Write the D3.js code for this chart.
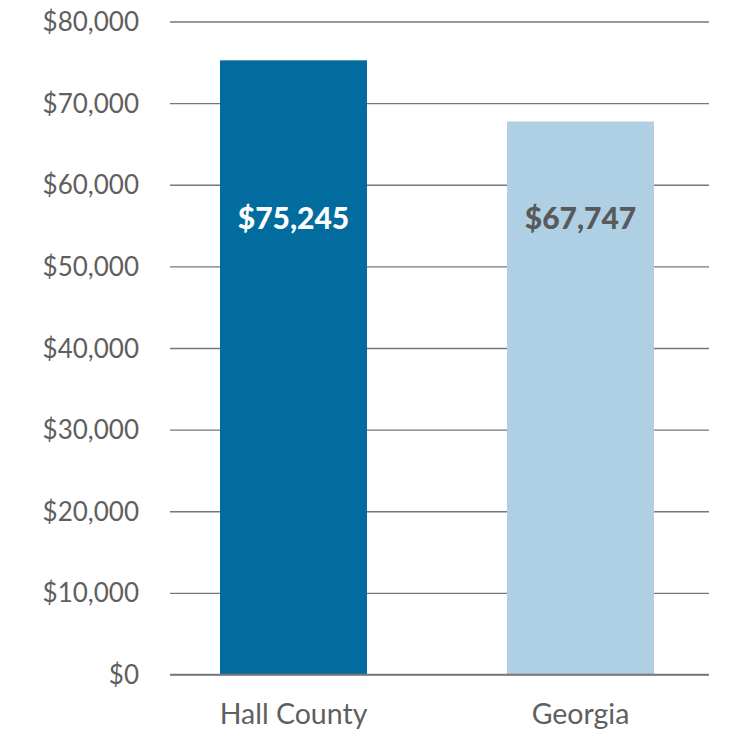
<!DOCTYPE html>
<html>
<head>
<meta charset="utf-8">
<script src="https://cdn.jsdelivr.net/npm/d3@7"></script>
<style>
  html, body { margin: 0; padding: 0; background: #ffffff; }
  svg { display: block; }
  text { font-family: Lato, "Open Sans", sans-serif; }
</style>
</head>
<body>
<script>
const categories = ["Hall County", "Georgia"];
const values = [75245, 67747];
const valueLabels = ["$75,245", "$67,747"];
const tickValues = [0, 10000, 20000, 30000, 40000, 50000, 60000, 70000, 80000];
const barColors = ["#026c9e", "#aecfe4"];
const labelColors = ["#ffffff", "#595959"];

const W = 729, H = 733;
const svg = d3.select("body").append("svg").attr("width", W).attr("height", H);

const y = d3.scaleLinear().domain([0, 80000]).range([674.5, 21.5]);
const x = d3.scaleBand().domain(categories).range([170, 704])
  .paddingInner(0.4878).paddingOuter(0.1742);

// gridlines
const yAxis = d3.axisLeft(y).tickValues(tickValues)
  .tickSize(-(709 - 170)).tickFormat(d => "$" + d3.format(",")(d));
const ga = svg.append("g").attr("transform", "translate(170,0)").call(yAxis);
ga.select(".domain").remove();
ga.selectAll(".tick line").attr("stroke", "#777777").attr("stroke-width", 1.3);
ga.selectAll(".tick text").attr("x", -31).attr("fill", "#5f5f5f")
  .attr("font-size", 26).attr("dy", "0.35em");

// bars
svg.selectAll("rect.bar").data(categories).join("rect")
  .attr("class", "bar")
  .attr("x", d => x(d))
  .attr("width", x.bandwidth())
  .attr("y", (d, i) => y(values[i]))
  .attr("height", (d, i) => y(0) - y(values[i]))
  .attr("fill", (d, i) => barColors[i]);

// baseline
svg.append("line").attr("x1", 170).attr("x2", 709)
  .attr("y1", y(0)).attr("y2", y(0))
  .attr("stroke", "#777777").attr("stroke-width", 1.3);

// value labels
svg.selectAll("text.val").data(categories).join("text")
  .attr("class", "val")
  .attr("x", d => x(d) + x.bandwidth() / 2)
  .attr("y", 229)
  .attr("text-anchor", "middle")
  .attr("font-size", 30)
  .attr("font-weight", 900)
  .attr("fill", (d, i) => labelColors[i])
  .text((d, i) => valueLabels[i]);

// category labels
const xAxis = d3.axisBottom(x).tickSize(0).tickPadding(0);
const gx = svg.append("g").call(xAxis);
gx.select(".domain").remove();
gx.selectAll(".tick text").attr("y", 724).attr("dy", 0)
  .attr("fill", "#5f5f5f").attr("font-size", 28.5);
</script>
</body>
</html>
